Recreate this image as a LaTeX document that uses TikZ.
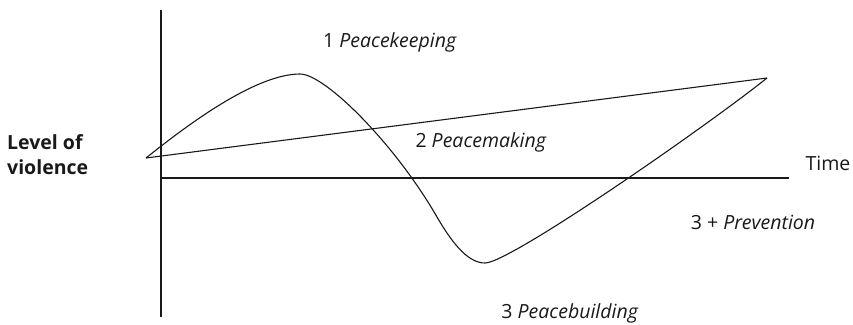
\documentclass[tikz,border=0pt]{standalone}
\usepackage{fontspec}
\setmainfont{Open Sans}
\begin{document}
\begin{tikzpicture}[x=1pt,y=-1pt,
  line/.style={line width=1.1pt,line join=round,draw=black!90},
  lbl/.style={font=\fontsize{19.5}{24}\selectfont,inner sep=0pt,text=black!90}]
\useasboundingbox (0,0) rectangle (853,324);
% axes
\coordinate (ytop) at (161,10);
\coordinate (ybot) at (161,317);
\coordinate (xl) at (161,178);
\coordinate (xr) at (789,178);
\draw[line] (ytop) -- (ybot);
\draw[line] (xl) -- (xr);
% points
\coordinate (s) at (146,158);
\coordinate (pk) at (300,74);
\coordinate (inf) at (437,217);
\coordinate (bt) at (485,263);
\coordinate (e) at (767,78);
\draw[line] (s) -- (e);
\draw[line] (s) .. controls (186,126) and (255,74) .. (pk)
  .. controls (325,74) and (395,144) .. (inf)
  .. controls (455,248) and (470,263) .. (bt)
  .. controls (510,263) and (707,126) .. (e);
% labels
\node[lbl] (t1) at (390,42) {1 \textit{Peacekeeping}};
\node[lbl] (t2) at (481,142) {2 \textit{Peacemaking}};
\node[lbl] (tt) at (828,163) {Time};
\node[lbl] (t3p) at (753,222) {3 + \textit{Prevention}};
\node[lbl] (t3) at (570,313) {3 \textit{Peacebuilding}};
\node[lbl,font=\fontsize{19.5}{25}\selectfont\bfseries,align=left,anchor=west] (lv) at (7,155) {Level of\\violence};
\end{tikzpicture}
\end{document}
